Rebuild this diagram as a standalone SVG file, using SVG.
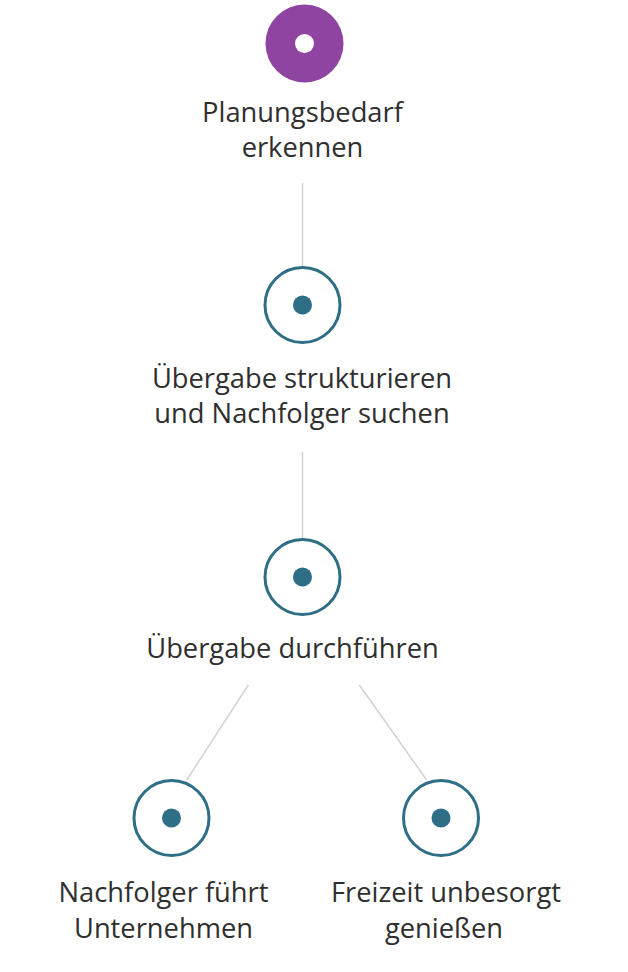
<svg xmlns="http://www.w3.org/2000/svg" width="628" height="972" viewBox="0 0 628 972">
<style>
.lbl{font-family:"Open Sans","Noto Sans","Liberation Sans",sans-serif;font-size:27.3px;fill:#2f2f2f;text-anchor:middle}
.ring{fill:#ffffff;stroke:#2e6e87;stroke-width:3}
.dot{fill:#2e6e87}
.edge{stroke:#d2d2d2;stroke-width:1.5;fill:none}
</style>
<rect width="628" height="972" fill="#ffffff"/>
<g id="connectors">
<line class="edge" x1="302.5" y1="183" x2="302.5" y2="266"/>
<line class="edge" x1="302.5" y1="452" x2="302.5" y2="538"/>
<line class="edge" x1="248.3" y1="685" x2="186.7" y2="780"/>
<line class="edge" x1="359.3" y1="685" x2="426.7" y2="780"/>
</g>
<g id="n1">
<circle cx="304.5" cy="43.5" r="39" fill="#8e44a0"/>
<circle cx="304.5" cy="43.5" r="9.5" fill="#ffffff"/>
<text class="lbl" x="302.5" y="122">Planungsbedarf</text>
<text class="lbl" x="302.5" y="157">erkennen</text>
</g>
<g id="n2">
<circle class="ring" cx="302.5" cy="305" r="37.5"/>
<circle class="dot" cx="302.5" cy="305" r="9.5"/>
<text class="lbl" x="302" y="388">Übergabe strukturieren</text>
<text class="lbl" x="302" y="423">und Nachfolger suchen</text>
</g>
<g id="n3">
<circle class="ring" cx="302.5" cy="577" r="37.5"/>
<circle class="dot" cx="302.5" cy="577" r="9.5"/>
<text class="lbl" x="292.5" y="658">Übergabe durchführen</text>
</g>
<g id="n4">
<circle class="ring" cx="171.5" cy="818" r="37.5"/>
<circle class="dot" cx="171.5" cy="818" r="9.5"/>
<text class="lbl" x="163.5" y="902">Nachfolger führt</text>
<text class="lbl" x="163.5" y="938">Unternehmen</text>
</g>
<g id="n5">
<circle class="ring" cx="441" cy="818" r="37.5"/>
<circle class="dot" cx="441" cy="818" r="9.5"/>
<text class="lbl" x="446" y="902">Freizeit unbesorgt</text>
<text class="lbl" x="444" y="938">genießen</text>
</g>
</svg>
